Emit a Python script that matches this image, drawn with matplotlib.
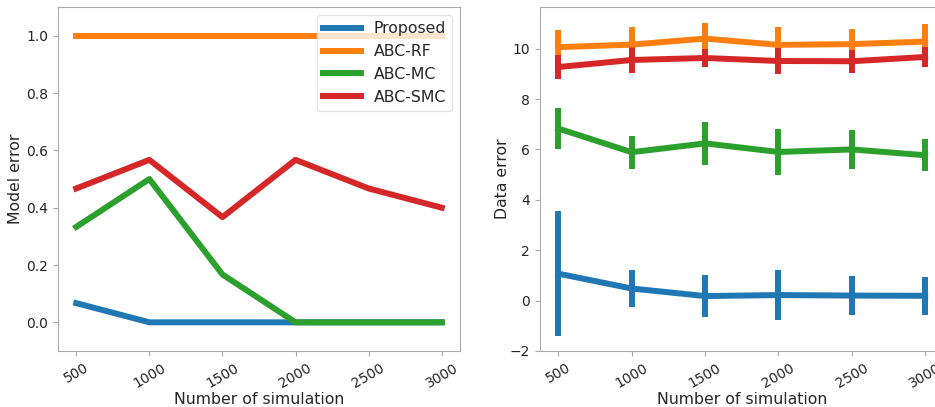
import numpy as np
import matplotlib
matplotlib.use('Agg')
import matplotlib.pyplot as plt

# Number of simulations on the x axis
n_sim = [500, 1000, 1500, 2000, 2500, 3000]
methods = ['Proposed', 'ABC-RF', 'ABC-MC', 'ABC-SMC']
colors = ['#1f77b4', '#ff7f0e', '#2ca02c', '#d62728']

# Model error (left panel)
model_err_proposed = [0.067, 0.0, 0.0, 0.0, 0.0, 0.0]
model_err_rf = [1.0, 1.0, 1.0, 1.0, 1.0, 1.0]
model_err_mc = [0.333, 0.5, 0.167, 0.0, 0.0, 0.0]
model_err_smc = [0.467, 0.567, 0.367, 0.567, 0.467, 0.4]

# Data error mean and std (right panel)
data_err_proposed = [1.07, 0.48, 0.18, 0.22, 0.2, 0.19]
data_std_proposed = [2.47, 0.72, 0.85, 1.0, 0.78, 0.76]
data_err_rf = [10.06, 10.16, 10.4, 10.15, 10.18, 10.28]
data_std_rf = [0.69, 0.71, 0.62, 0.72, 0.6, 0.69]
data_err_mc = [6.83, 5.89, 6.24, 5.9, 6.0, 5.77]
data_std_mc = [0.81, 0.66, 0.86, 0.93, 0.76, 0.63]
data_err_smc = [9.27, 9.55, 9.63, 9.51, 9.5, 9.67]
data_std_smc = [0.47, 0.5, 0.36, 0.52, 0.45, 0.39]

text_col = '#262626'
spine_col = '#aaaaaa'
lw = 4.3

plt.rcParams['font.family'] = 'DejaVu Sans'
plt.rcParams['text.color'] = text_col
plt.rcParams['axes.labelcolor'] = text_col
plt.rcParams['xtick.color'] = spine_col
plt.rcParams['ytick.color'] = spine_col
plt.rcParams['xtick.labelcolor'] = text_col
plt.rcParams['ytick.labelcolor'] = text_col

fig = plt.figure(figsize=(9.35, 4.07), dpi=100)
ax1 = fig.add_axes([0.062, 0.1376, 0.430, 0.845])
ax2 = fig.add_axes([0.5775, 0.1376, 0.4316, 0.845])

# left: model error
model_series = [model_err_proposed, model_err_rf, model_err_mc, model_err_smc]
for name, vals, c in zip(methods, model_series, colors):
    ax1.plot(n_sim, vals, color=c, lw=lw, label=name)
ax1.set_ylim(-0.1, 1.1)
ax1.set_ylabel('Model error', fontsize=11.3, labelpad=2)
leg = ax1.legend(loc='upper right', fontsize=11.3, framealpha=0.8,
                 handlelength=2.4)
leg.get_frame().set_edgecolor('#dddddd')

# right: data error with error bars
means = [data_err_proposed, data_err_rf, data_err_mc, data_err_smc]
stds = [data_std_proposed, data_std_rf, data_std_mc, data_std_smc]
for name, m, s, c in zip(methods, means, stds, colors):
    ax2.errorbar(n_sim, m, yerr=s, color=c, lw=lw, elinewidth=lw,
                 capsize=0, label=name)
ax2.set_ylim(-2.0, 11.65)
ax2.set_yticks([-2, 0, 2, 4, 6, 8, 10])
ax2.set_ylabel('Data error', fontsize=11.3, labelpad=0)

for ax in (ax1, ax2):
    ax.set_xticks(n_sim)
    ax.set_xlim(375, 3125)
    ax.set_xlabel('Number of simulation', fontsize=11.3, labelpad=1)
    for lab in ax.get_xticklabels():
        lab.set_rotation(30)
    ax.tick_params(labelsize=10, length=3.5, width=0.8)
    for sp in ax.spines.values():
        sp.set_color(spine_col)

fig.savefig('out.png', dpi=100)
